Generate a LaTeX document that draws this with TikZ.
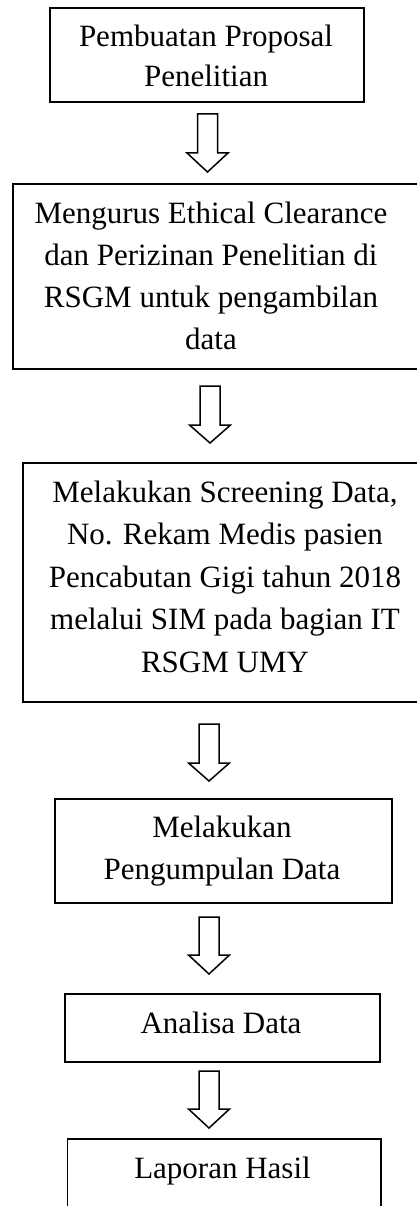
\documentclass[tikz,border=0pt]{standalone}
\usepackage{fontspec}
\setmainfont{Liberation Serif}
\tikzset{
  box/.style={draw=black, line width=1.6pt, inner sep=0pt, anchor=north west, fill=none},
  txt/.style={inner sep=0pt, align=center, anchor=base, font=\fontsize{31}{42}\selectfont},
  blk/.style={draw=black, line width=1.5pt, line join=miter, fill=white}
}
% block arrow: center x, shaft top y, head base y, tip y
\newcommand\blkarrow[4]{%
  \draw[blk] (#1-10,#2) -- (#1+10,#2) -- (#1+10,#3) -- (#1+20.5,#3) -- (#1,#4)
     -- (#1-20.5,#3) -- (#1-10,#3) -- cycle;}
\begin{document}
\begin{tikzpicture}[x=1pt,y=-1pt]
\useasboundingbox (0,0) rectangle (417,1206);
\fill[white] (0,0) rectangle (417,1206);
\clip (0,0) rectangle (417,1206);
% boxes
\node[box, minimum width=314pt, minimum height=94pt] (b1) at (49,7) {};
\node[box, minimum width=420pt, minimum height=185pt] (b2) at (12,183) {};
\node[box, minimum width=420pt, minimum height=239pt] (b3) at (22,462) {};
\node[box, minimum width=337pt, minimum height=104pt] (b4) at (54,798) {};
\node[box, minimum width=315pt, minimum height=68pt] (b5) at (64,993) {};
\node[box, minimum width=313.5pt, minimum height=100pt] (b6) at (66.5,1138) {};
% texts (anchor = baseline of last line)
\node[txt, font=\fontsize{31}{40}\selectfont] (t1) at (206,87) {Pembuatan Proposal\\Penelitian};
\node[txt] (t2) at (211,349) {Mengurus Ethical Clearance\\dan Perizinan Penelitian di\\RSGM untuk pengambilan\\data};
\node[txt, font=\fontsize{31}{42.5}\selectfont] (t3) at (225,672) {Melakukan Screening Data,\\No. Rekam Medis pasien\\Pencabutan Gigi tahun 2018\\melalui SIM pada bagian IT\\RSGM UMY};
\node[txt] (t4) at (222,879) {Melakukan\\Pengumpulan Data};
\node[txt] (t5) at (221,1033) {Analisa Data};
\node[txt] (t6) at (222.5,1178) {Laporan Hasil};
% arrows
\blkarrow{207.5}{114}{153}{172}
\blkarrow{210}{386}{425}{443}
\blkarrow{209}{724}{763}{781}
\blkarrow{209}{917}{955}{974}
\blkarrow{209}{1071}{1109}{1128}
\end{tikzpicture}
\end{document}
